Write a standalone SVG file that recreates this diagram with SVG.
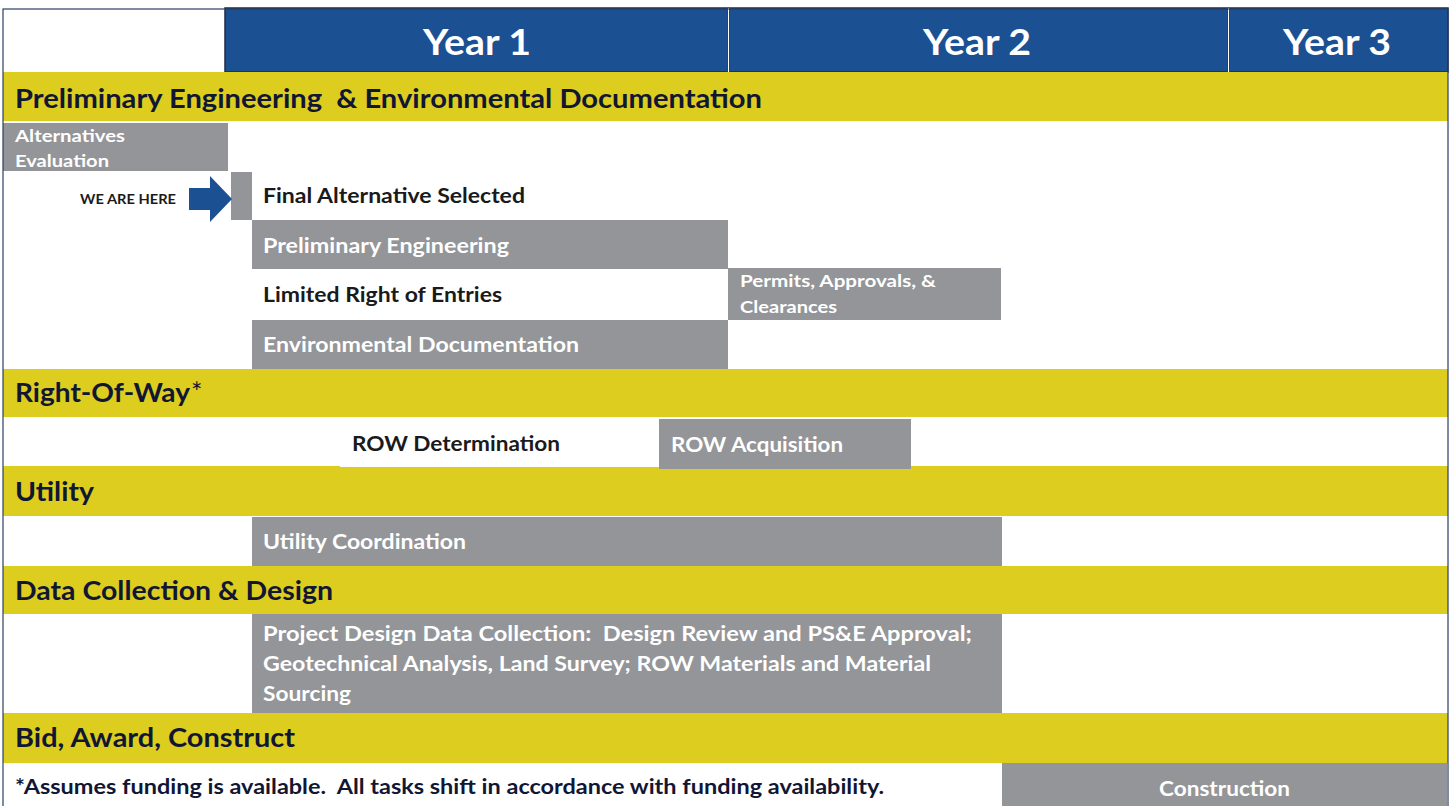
<svg xmlns="http://www.w3.org/2000/svg" width="1450" height="806" viewBox="0 0 1450 806">
  <style>
    .hdr { fill: #1b5093; }
    .band { fill: #dccd1f; }
    .bar { fill: #939598; }
    .yr { font-family: Lato, "Open Sans", sans-serif; font-weight: 700; font-size: 37px; fill: #ffffff; }
    .sec { font-family: Lato, "Open Sans", sans-serif; font-weight: 700; font-size: 27px; fill: #111633; }
    .lbl { font-family: Lato, "Open Sans", sans-serif; font-weight: 700; font-size: 21px; }
    .sm { font-family: Lato, "Open Sans", sans-serif; font-weight: 700; font-size: 17px; }
    .tiny { font-family: Lato, "Open Sans", sans-serif; font-weight: 700; font-size: 13px; fill: #1a1a1a; }
    .w { fill: #ffffff; }
    .k { fill: #1a1a1a; }
  </style>

  <!-- page background -->
  <rect x="0" y="0" width="1450" height="806" fill="#ffffff"/>

  <!-- year header -->
  <g id="year-header">
    <rect class="hdr" x="225" y="8" width="1223" height="64" stroke="#1f2a44" stroke-width="1.5"/>
    <line x1="728.5" y1="8" x2="728.5" y2="72" stroke="#1f2a44" stroke-width="3"/>
    <line x1="728.5" y1="8" x2="728.5" y2="72" stroke="#ffffff" stroke-width="1.2"/>
    <line x1="1228.5" y1="8" x2="1228.5" y2="72" stroke="#1f2a44" stroke-width="3"/>
    <line x1="1228.5" y1="8" x2="1228.5" y2="72" stroke="#ffffff" stroke-width="1.2"/>
    <text class="yr" x="423" y="55" textLength="108" lengthAdjust="spacingAndGlyphs">Year 1</text>
    <text class="yr" x="923" y="55" textLength="108" lengthAdjust="spacingAndGlyphs">Year 2</text>
    <text class="yr" x="1283" y="55" textLength="108" lengthAdjust="spacingAndGlyphs">Year 3</text>
  </g>

  <!-- section bands -->
  <g id="section-pe">
    <rect class="band" x="3" y="72" width="1445" height="49"/>
    <text class="sec" x="15" y="108" textLength="747" lengthAdjust="spacingAndGlyphs" xml:space="preserve">Preliminary Engineering  &amp; Environmental Documentation</text>
  </g>
  <g id="section-row">
    <rect class="band" x="3" y="369" width="1445" height="48"/>
    <text class="sec" x="15" y="402"><tspan textLength="175" lengthAdjust="spacingAndGlyphs">Right-Of-Way</tspan><tspan font-weight="400" dx="1">*</tspan></text>
  </g>
  <g id="section-utility">
    <rect class="band" x="3" y="466" width="1445" height="50"/>
    <text class="sec" x="15" y="501" textLength="79" lengthAdjust="spacingAndGlyphs">Utility</text>
  </g>
  <g id="section-design">
    <rect class="band" x="3" y="566" width="1445" height="48"/>
    <text class="sec" x="15" y="600" textLength="318" lengthAdjust="spacingAndGlyphs">Data Collection &amp; Design</text>
  </g>
  <g id="section-construct">
    <rect class="band" x="3" y="713" width="1445" height="50"/>
    <text class="sec" x="15" y="747" textLength="280" lengthAdjust="spacingAndGlyphs">Bid, Award, Construct</text>
  </g>

  <!-- task bars -->
  <g id="alternatives-evaluation">
    <rect class="bar" x="3" y="123" width="225" height="48"/>
    <text class="sm w" x="15" y="142" textLength="110" lengthAdjust="spacingAndGlyphs">Alternatives</text>
    <text class="sm w" x="15" y="167" textLength="94" lengthAdjust="spacingAndGlyphs">Evaluation</text>
  </g>
  <g id="final-alternative">
    <rect class="bar" x="231" y="172" width="21" height="48"/>
    <text class="lbl k" x="263" y="203" textLength="262" lengthAdjust="spacingAndGlyphs">Final Alternative Selected</text>
  </g>
  <g id="preliminary-engineering">
    <rect class="bar" x="252" y="220" width="476" height="49"/>
    <text class="lbl w" x="263" y="253" textLength="246" lengthAdjust="spacingAndGlyphs">Preliminary Engineering</text>
  </g>
  <g id="limited-right-of-entries">
    <text class="lbl k" x="263" y="302" textLength="239" lengthAdjust="spacingAndGlyphs">Limited Right of Entries</text>
  </g>
  <g id="permits">
    <rect class="bar" x="728" y="268" width="273" height="52"/>
    <text class="sm w" x="740" y="287" textLength="196" lengthAdjust="spacingAndGlyphs">Permits, Approvals, &amp;</text>
    <text class="sm w" x="740" y="313" textLength="97" lengthAdjust="spacingAndGlyphs">Clearances</text>
  </g>
  <g id="environmental-documentation">
    <rect class="bar" x="252" y="320" width="476" height="49"/>
    <text class="lbl w" x="263" y="352" textLength="316" lengthAdjust="spacingAndGlyphs">Environmental Documentation</text>
  </g>
  <g id="row-determination">
    <rect x="340" y="417" width="319" height="50" fill="#ffffff"/>
    <text class="lbl k" x="352" y="451" textLength="208" lengthAdjust="spacingAndGlyphs">ROW Determination</text>
  </g>
  <g id="row-acquisition">
    <rect class="bar" x="659" y="419" width="252" height="50"/>
    <text class="lbl w" x="671" y="452" textLength="172" lengthAdjust="spacingAndGlyphs">ROW Acquisition</text>
  </g>
  <g id="utility-coordination">
    <rect class="bar" x="252" y="517" width="750" height="49"/>
    <text class="lbl w" x="263" y="549" textLength="203" lengthAdjust="spacingAndGlyphs">Utility Coordination</text>
  </g>
  <g id="project-design">
    <rect class="bar" x="252" y="614" width="750" height="99"/>
    <text class="lbl w" x="263" y="641" textLength="709" lengthAdjust="spacingAndGlyphs" xml:space="preserve">Project Design Data Collection:  Design Review and PS&amp;E Approval;</text>
    <text class="lbl w" x="263" y="671" textLength="668" lengthAdjust="spacingAndGlyphs">Geotechnical Analysis, Land Survey; ROW Materials and Material</text>
    <text class="lbl w" x="263" y="701" textLength="88" lengthAdjust="spacingAndGlyphs">Sourcing</text>
  </g>
  <g id="construction">
    <rect class="bar" x="1002" y="763" width="445" height="43"/>
    <text class="lbl w" x="1159" y="796" textLength="131" lengthAdjust="spacingAndGlyphs">Construction</text>
  </g>

  <!-- current-position pointer -->
  <g id="connectors">
    <text class="tiny" x="80" y="204" textLength="96" lengthAdjust="spacingAndGlyphs">WE ARE HERE</text>
    <polygon points="189,188 210,188 210,176 232,199 210,222 210,210 189,210" fill="#1b5093"/>
  </g>

  <!-- footnote -->
  <g id="footnote">
    <text class="lbl" x="15" y="794" fill="#111633" textLength="869" lengthAdjust="spacingAndGlyphs" xml:space="preserve">*Assumes funding is available.  All tasks shift in accordance with funding availability.</text>
  </g>

  <!-- outer frame -->
  <rect x="3" y="9" width="1445" height="800" fill="none" stroke="#2b3f63" stroke-width="1.2"/>
</svg>
